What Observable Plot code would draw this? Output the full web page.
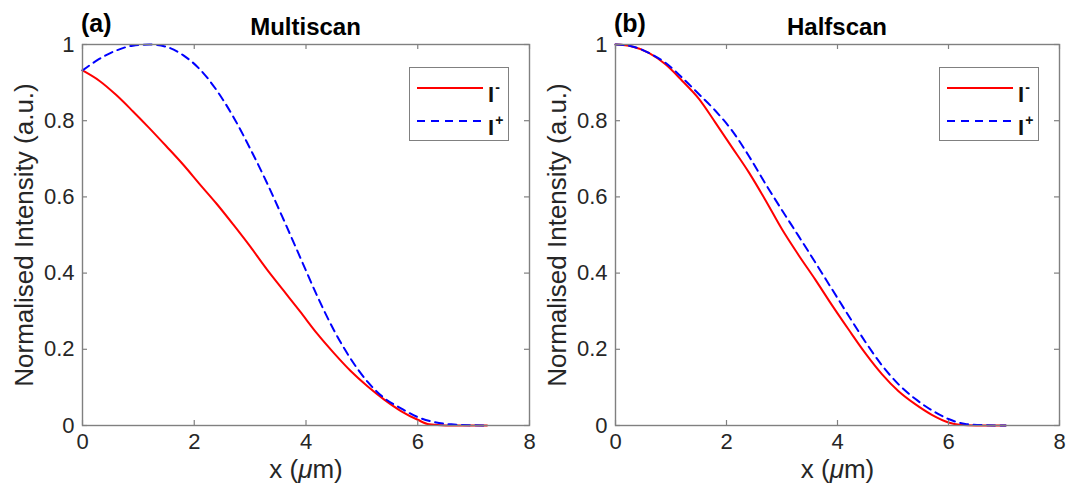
<!DOCTYPE html>
<html><head><meta charset="utf-8">
<script src="https://cdn.jsdelivr.net/npm/d3@7"></script>
<script src="https://cdn.jsdelivr.net/npm/@observablehq/plot@0.6"></script>
<style>
body{margin:0;background:#fff;font-family:"Liberation Sans",Arial,sans-serif;}
#wrap{position:relative;width:1077px;height:494px;overflow:hidden;background:#fff;}
.panel{position:absolute;top:0;}
.ttl{position:absolute;font-weight:bold;color:#000;white-space:nowrap;line-height:1;}
.legend{position:absolute;box-sizing:border-box;border:1.5px solid #808080;background:#fff;}
.sw{position:absolute;height:2px;}
.lt{position:absolute;font-weight:bold;font-size:22px;color:#111;line-height:22px;}
.lt sup{font-size:14px;position:relative;top:-2px;margin-left:1px;}
</style></head><body><div id="wrap"></div><script>
// ---- data ----
const xTicks = [0, 2, 4, 6, 8];
const yTicks = [0, 0.2, 0.4, 0.6, 0.8, 1];
const yTickLabels = ["0", "0.2", "0.4", "0.6", "0.8", "1"];
const panelTitles = ["Multiscan", "Halfscan"];
const panelLetters = ["(a)", "(b)"];
const seriesNames = ["I-", "I+"];

const multiMinusX = [0, 0.3, 0.6, 0.9, 1.2, 1.5, 1.8, 2.1, 2.4, 2.7, 3.0, 3.3, 3.6, 3.9, 4.2, 4.5, 4.8, 5.1, 5.4, 5.7, 6.0, 6.2, 6.5, 7.24];
const multiMinusY = [0.932, 0.905, 0.868, 0.825, 0.780, 0.733, 0.685, 0.633, 0.582, 0.527, 0.470, 0.410, 0.354, 0.298, 0.241, 0.190, 0.143, 0.103, 0.068, 0.038, 0.015, 0.003, 0.000, 0.000];
const multiPlusX  = [0, 0.3, 0.6, 0.9, 1.2, 1.5, 1.8, 2.1, 2.4, 2.7, 3.0, 3.3, 3.6, 3.9, 4.2, 4.5, 4.8, 5.1, 5.4, 5.7, 6.0, 6.3, 6.6, 7.24];
const multiPlusY  = [0.932, 0.962, 0.984, 0.997, 1.000, 0.994, 0.972, 0.935, 0.880, 0.810, 0.727, 0.637, 0.540, 0.440, 0.340, 0.250, 0.175, 0.115, 0.072, 0.045, 0.022, 0.009, 0.003, 0.000];

const halfMinusX = [0, 0.3, 0.6, 0.9, 1.2, 1.5, 1.8, 2.1, 2.4, 2.7, 3.0, 3.3, 3.6, 3.9, 4.2, 4.5, 4.8, 5.1, 5.4, 5.7, 6.0, 6.2, 6.5, 7.03];
const halfMinusY = [1.000, 0.995, 0.978, 0.948, 0.905, 0.858, 0.795, 0.730, 0.665, 0.592, 0.515, 0.447, 0.383, 0.316, 0.252, 0.190, 0.135, 0.090, 0.056, 0.028, 0.008, 0.002, 0.000, 0.000];
const halfPlusX  = [0, 0.3, 0.6, 0.9, 1.2, 1.5, 1.8, 2.1, 2.4, 2.7, 3.0, 3.3, 3.6, 3.9, 4.2, 4.5, 4.8, 5.1, 5.4, 5.7, 6.0, 6.3, 6.6, 7.03];
const halfPlusY  = [1.000, 0.995, 0.978, 0.952, 0.913, 0.870, 0.826, 0.774, 0.708, 0.635, 0.565, 0.497, 0.428, 0.358, 0.288, 0.220, 0.158, 0.108, 0.070, 0.040, 0.017, 0.004, 0.001, 0.000];

// ---- build ----
const zip = (xs, ys) => xs.map((x, i) => ({x, y: ys[i]}));
const W = 540, H = 494;
const layouts = [
  {left: 0, mL: 82, mR: 11},
  {left: 537, mL: 78, mR: 18}
];
const mT = 44, mB = 69;
const frameColor = "#808080";
const textColor = "#262626";
const panelData = [
  [zip(multiMinusX, multiMinusY), zip(multiPlusX, multiPlusY)],
  [zip(halfMinusX, halfMinusY), zip(halfPlusX, halfPlusY)]
];
const wrap = document.getElementById("wrap");

panelData.forEach((pd, p) => {
  const L = layouts[p];
  const fw = W - L.mL - L.mR, fh = H - mT - mB;
  const chart = Plot.plot({
    width: W, height: H,
    marginLeft: L.mL, marginRight: L.mR, marginTop: mT, marginBottom: mB,
    style: {fontFamily: '"Liberation Sans", Arial, sans-serif', color: textColor, background: "transparent", overflow: "visible"},
    x: {domain: [0, 8]},
    y: {domain: [0, 1]},
    marks: [
      Plot.line(pd[0], {x: "x", y: "y", stroke: "#ff0000", strokeWidth: 2, curve: "monotone-x"}),
      Plot.line(pd[1], {x: "x", y: "y", stroke: "#0000ff", strokeWidth: 2, strokeDasharray: "8,5.5", curve: "monotone-x"}),
      Plot.frame({stroke: frameColor, strokeWidth: 1.4}),
      Plot.tickX(xTicks, {x: d => d, stroke: frameColor, strokeWidth: 1.2, insetTop: fh - 5}),
      Plot.tickX(xTicks, {x: d => d, stroke: frameColor, strokeWidth: 1.2, insetBottom: fh - 5}),
      Plot.tickY(yTicks, {y: d => d, stroke: frameColor, strokeWidth: 1.2, insetRight: fw - 5}),
      Plot.tickY(yTicks, {y: d => d, stroke: frameColor, strokeWidth: 1.2, insetLeft: fw - 5}),
      Plot.axisX(xTicks, {tickSize: 0, tickPadding: 8, fontSize: 22, label: null, fill: textColor}),
      Plot.axisY(yTicks, {tickSize: 0, tickPadding: 8, fontSize: 22, label: null, fill: textColor,
        tickFormat: d => yTickLabels[yTicks.indexOf(d)]}),
      Plot.text(["x (μm)"], {frameAnchor: "bottom", dy: 52, fontSize: 26, fill: textColor}),
      Plot.text(["Normalised Intensity (a.u.)"], {frameAnchor: "left", textAnchor: "middle", rotate: -90, dx: -58, fontSize: 26, fill: textColor})
    ]
  });
  const div = document.createElement("div");
  div.className = "panel";
  div.style.left = L.left + "px";
  div.appendChild(chart);
  wrap.appendChild(div);
  d3.select(chart).selectAll("text").each(function() {
    if (this.textContent === "x (μm)") {
      this.innerHTML = 'x (<tspan font-style="italic">μ</tspan>m)';
    }
  });

  // title & letter
  const t = document.createElement("div");
  t.className = "ttl";
  t.textContent = panelTitles[p];
  t.style.fontSize = "24px";
  t.style.left = (L.left + L.mL + fw / 2) + "px";
  t.style.transform = "translateX(-50%)";
  t.style.top = "15px";
  wrap.appendChild(t);
  const a = document.createElement("div");
  a.className = "ttl";
  a.textContent = panelLetters[p];
  a.style.fontSize = "25px";
  a.style.left = (L.left + L.mL - 1) + "px";
  a.style.top = "11px";
  wrap.appendChild(a);

  // legend
  const lg = document.createElement("div");
  lg.className = "legend";
  const lx = L.left + L.mL + fw - 120, ly = 67;
  lg.style.left = lx + "px"; lg.style.top = ly + "px";
  lg.style.width = "100px"; lg.style.height = "74px";
  const cols = ["#ff0000", "#0000ff"];
  seriesNames.forEach((nm, i) => {
    const s = document.createElement("div");
    s.className = "sw";
    s.style.left = "7px"; s.style.width = "66px";
    s.style.top = (19 + i * 33) + "px";
    s.style.background = i === 0 ? cols[0] :
      `repeating-linear-gradient(to right, ${cols[1]} 0 8px, transparent 8px 14px)`;
    lg.appendChild(s);
    const tx = document.createElement("div");
    tx.className = "lt";
    tx.style.left = "78px"; tx.style.top = (10 + i * 33) + "px";
    tx.innerHTML = 'I<sup>' + (nm.endsWith("-") ? "-" : "+") + '</sup>';
    lg.appendChild(tx);
  });
  wrap.appendChild(lg);
});
</script></body></html>
